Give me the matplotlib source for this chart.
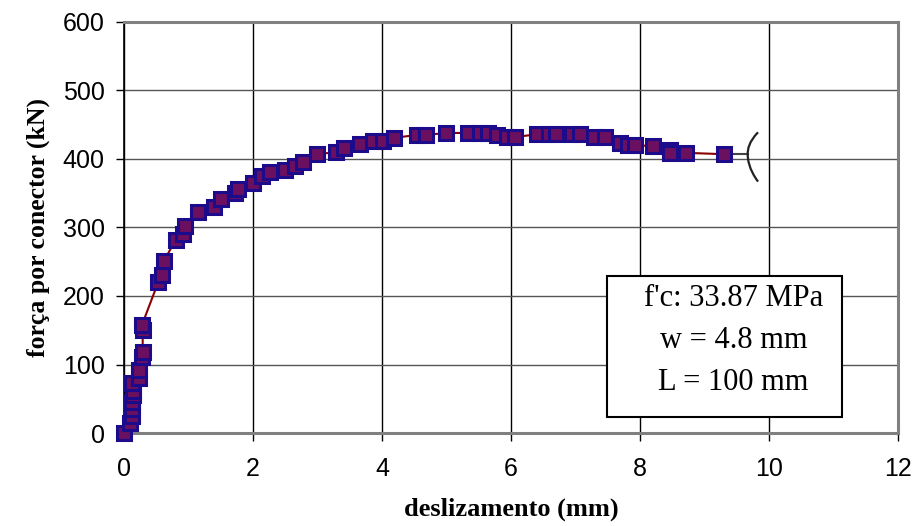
import matplotlib
matplotlib.use('Agg')
from matplotlib import pyplot as plt
from matplotlib.path import Path
from matplotlib.patches import PathPatch, Rectangle
import numpy as np

# slip (mm) vs load per connector (kN)
slip = [0.0, 0.10, 0.12, 0.13, 0.13, 0.14, 0.14, 0.13, 0.23, 0.24, 0.28, 0.29,
        0.29, 0.28, 0.53, 0.59, 0.62, 0.80, 0.91, 0.95, 1.15, 1.40, 1.50,
        1.72, 1.77, 2.00, 2.14, 2.26, 2.50, 2.65, 2.78, 3.00, 3.29, 3.41,
        3.66, 3.86, 4.02, 4.19, 4.54, 4.68, 4.99, 5.33, 5.52, 5.64, 5.78,
        5.94, 6.06, 6.40, 6.59, 6.70, 6.95, 7.07, 7.29, 7.46, 7.69, 7.81,
        7.92, 8.20, 8.47, 8.47, 8.71, 9.30]
force = [0, 15, 25, 35, 45, 55, 62, 73, 80, 92, 111, 118, 150, 158, 220,
         231, 251, 282, 290, 302, 322, 330, 341, 350, 356, 365, 375, 381,
         384, 390, 396, 407, 410, 416, 422, 426, 426, 431, 435, 435, 438,
         438, 438, 438, 435, 432, 432, 436, 436, 436, 436, 436, 432, 432,
         423, 420, 420, 419, 413, 409, 409, 407]

info = ["f'c: 33.87 MPa", "w = 4.8 mm", "L = 100 mm"]
break_x = 9.67

plt.rcParams['font.family'] = ['Liberation Sans', 'DejaVu Sans']

fig = plt.figure(figsize=(9.15, 5.26), dpi=100)
ax = fig.add_axes([0.1355, 0.1768, 0.8459, 0.7814])

ax.set_xlim(0, 12)
ax.set_ylim(0, 600)
ax.set_xticks(np.arange(0, 13, 2))
ax.set_yticks(np.arange(0, 601, 100))

ax.grid(axis='x', color='black', linewidth=1.0)
ax.grid(axis='y', color='#555555', linewidth=1.0)
ax.set_axisbelow(True)

for side in ['top', 'right', 'bottom']:
    ax.spines[side].set_color('#808080')
    ax.spines[side].set_linewidth(2.2)
ax.spines['left'].set_color('black')
ax.spines['left'].set_linewidth(1.2)

ax.tick_params(axis='both', direction='out', length=6, width=1, color='black')
ax.tick_params(axis='y', labelsize=18, pad=8)
ax.tick_params(axis='x', labelsize=18, pad=11)
for lab in ax.get_xticklabels():
    lab.set_family(['Liberation Sans Narrow', 'Liberation Sans'])

ax.set_xlabel('deslizamento (mm)', family='Liberation Serif',
              fontweight='bold', fontsize=19, labelpad=12)
ax.set_ylabel('força por conector (kN)', family='Liberation Serif',
              fontweight='bold', fontsize=18.5, labelpad=9)

# connecting line to the break symbol
ax.plot([slip[-1], break_x], [force[-1], force[-1]], color='#444444',
        linewidth=1.5, zorder=2)
ax.plot(slip, force, color='#8b0000', linewidth=1.5, zorder=3)
ax.plot(slip, force, linestyle='none', marker='s', markersize=10,
        markerfacecolor='#6b1060', markeredgecolor='#1c0c8c',
        markeredgewidth=2.2, zorder=4, clip_on=False)

# break mark
yb = force[-1]
verts = [(break_x + 0.16, yb + 32), (break_x + 0.02, yb + 18),
         (break_x, yb + 8), (break_x, yb),
         (break_x, yb - 8), (break_x + 0.02, yb - 22),
         (break_x + 0.16, yb - 40)]
codes = [Path.MOVETO, Path.CURVE4, Path.CURVE4, Path.CURVE4,
         Path.CURVE4, Path.CURVE4, Path.CURVE4]
ax.add_patch(PathPatch(Path(verts, codes), facecolor='none',
                       edgecolor='#222222', linewidth=1.6, zorder=5))

# info box
ax.add_patch(Rectangle((7.49, 23), 3.64, 206, facecolor='white',
                       edgecolor='black', linewidth=1.5, zorder=6))
for i, line in enumerate(info):
    ax.text(9.45, 197 - i * 62, line, ha='center', va='center',
            family='Liberation Serif', fontsize=22, zorder=7)

fig.savefig('out.png', dpi=100)
